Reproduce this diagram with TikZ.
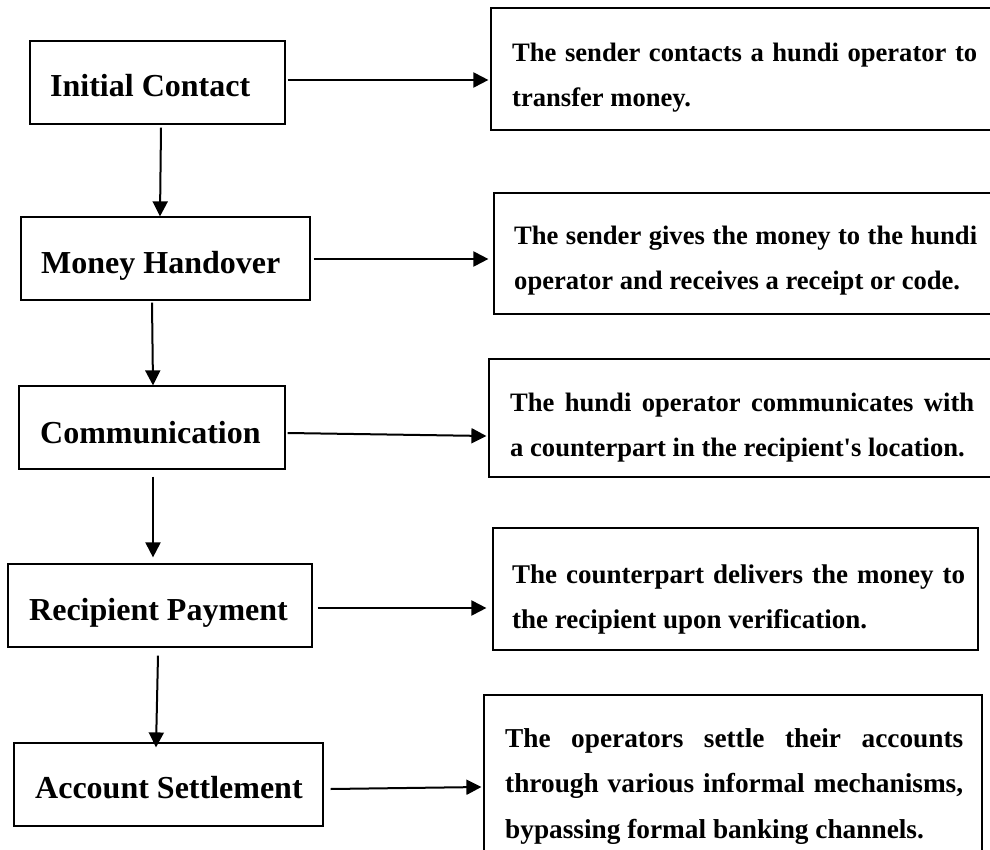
\documentclass[tikz,border=0pt]{standalone}
\usepackage{fontspec}
\setmainfont{Liberation Serif}[Ligatures=TeXOff]
\usetikzlibrary{arrows.meta,calc}
\begin{document}
\begin{tikzpicture}[x=1pt,y=-1pt,
  box/.style={draw=black, line width=1.2pt, inner sep=0pt, rectangle},
  lab/.style={anchor=base west, inner sep=0pt, font=\bfseries\fontsize{32}{38}\selectfont},
  desc/.style={anchor=north west, inner sep=0pt, align=left, font=\bfseries\fontsize{26.6}{45}\selectfont},
  arr/.style={-{Triangle[length=15pt,width=15pt]}, line width=2pt}]
\useasboundingbox (0,0) rectangle (990,850);
% left boxes
\node[box, minimum width=255pt, minimum height=83pt] (l1) at (157.5,82.5) {};
\node[box, minimum width=289pt, minimum height=83pt] (l2) at (165.5,258.5) {};
\node[box, minimum width=266pt, minimum height=83pt] (l3) at (152,427.5) {};
\node[box, minimum width=304pt, minimum height=83pt] (l4) at (160,605.5) {};
\node[box, minimum width=309pt, minimum height=83pt] (l5) at (168.5,784.5) {};
% right boxes
\node[box, minimum width=519pt, minimum height=122pt] (r1) at (750.5,69) {};
\node[box, minimum width=516pt, minimum height=121pt] (r2) at (752,253.5) {};
\node[box, minimum width=521pt, minimum height=118pt] (r3) at (749.5,418) {};
\node[box, minimum width=485pt, minimum height=122pt] (r4) at (735.5,589) {};
\node[box, minimum width=498pt, minimum height=175pt] (r5) at (733,782.5) {};
% left labels
\node[lab] (t1) at (50,97) {Initial Contact};
\node[lab] (t2) at (41,273) {Money Handover};
\node[lab] (t3) at (40,443) {Communication};
\node[lab] (t4) at (29,620) {Recipient Payment};
\node[lab] (t5) at (35,798) {Account Settlement};
% descriptions
\node[desc] (d1) at (512,41) {\rule{0pt}{20pt}\makebox[465pt][s]{The sender contacts a hundi operator to}\\ transfer money.};
\node[desc] (d2) at (514,224) {\rule{0pt}{20pt}\makebox[463pt][s]{The sender gives the money to the hundi}\\ operator and receives a receipt or code.};
\node[desc] (d3) at (510,391) {\rule{0pt}{20pt}\makebox[464pt][s]{The hundi operator communicates with}\\ a counterpart in the recipient's location.};
\node[desc, font=\bfseries\fontsize{27}{45}\selectfont] (d4) at (512,563) {\rule{0pt}{20pt}\makebox[453pt][s]{The counterpart delivers the money to}\\ the recipient upon verification.};
\node[desc, font=\bfseries\fontsize{27.3}{45.5}\selectfont] (d5) at (505,727) {\rule{0pt}{20pt}\makebox[458pt][s]{The operators settle their accounts}\\ \makebox[458pt][s]{through various informal mechanisms,}\\ bypassing formal banking channels.};
% vertical arrows
\draw[arr] ($(l1.south)+(3.5,3)$) -- ($(l2.north)+(-5.5,0)$);
\draw[arr] ($(l2.south)+(-13.5,2)$) -- ($(l3.north)+(1,0)$);
\draw[arr] ($(l3.south)+(1,7)$) -- ($(l4.north)+(-7,-6)$);
\draw[arr] ($(l4.south)+(-2,8)$) -- ($(l5.north)+(-12.5,5)$);
% horizontal arrows
\draw[arr] ($(l1.east)+(2,-2.5)$) -- ($(r1.west)+(-2,11)$);
\draw[arr] ($(l2.east)+(3,0.5)$) -- ($(r2.west)+(-5,5.5)$);
\draw[arr] ($(l3.east)+(2,5.5)$) -- ($(r3.west)+(-2,18)$);
\draw[arr] ($(l4.east)+(5,2.5)$) -- ($(r4.west)+(-6,19)$);
\draw[arr] ($(l5.east)+(7,4.5)$) -- ($(r5.west)+(-2,4.5)$);
\end{tikzpicture}
\end{document}
